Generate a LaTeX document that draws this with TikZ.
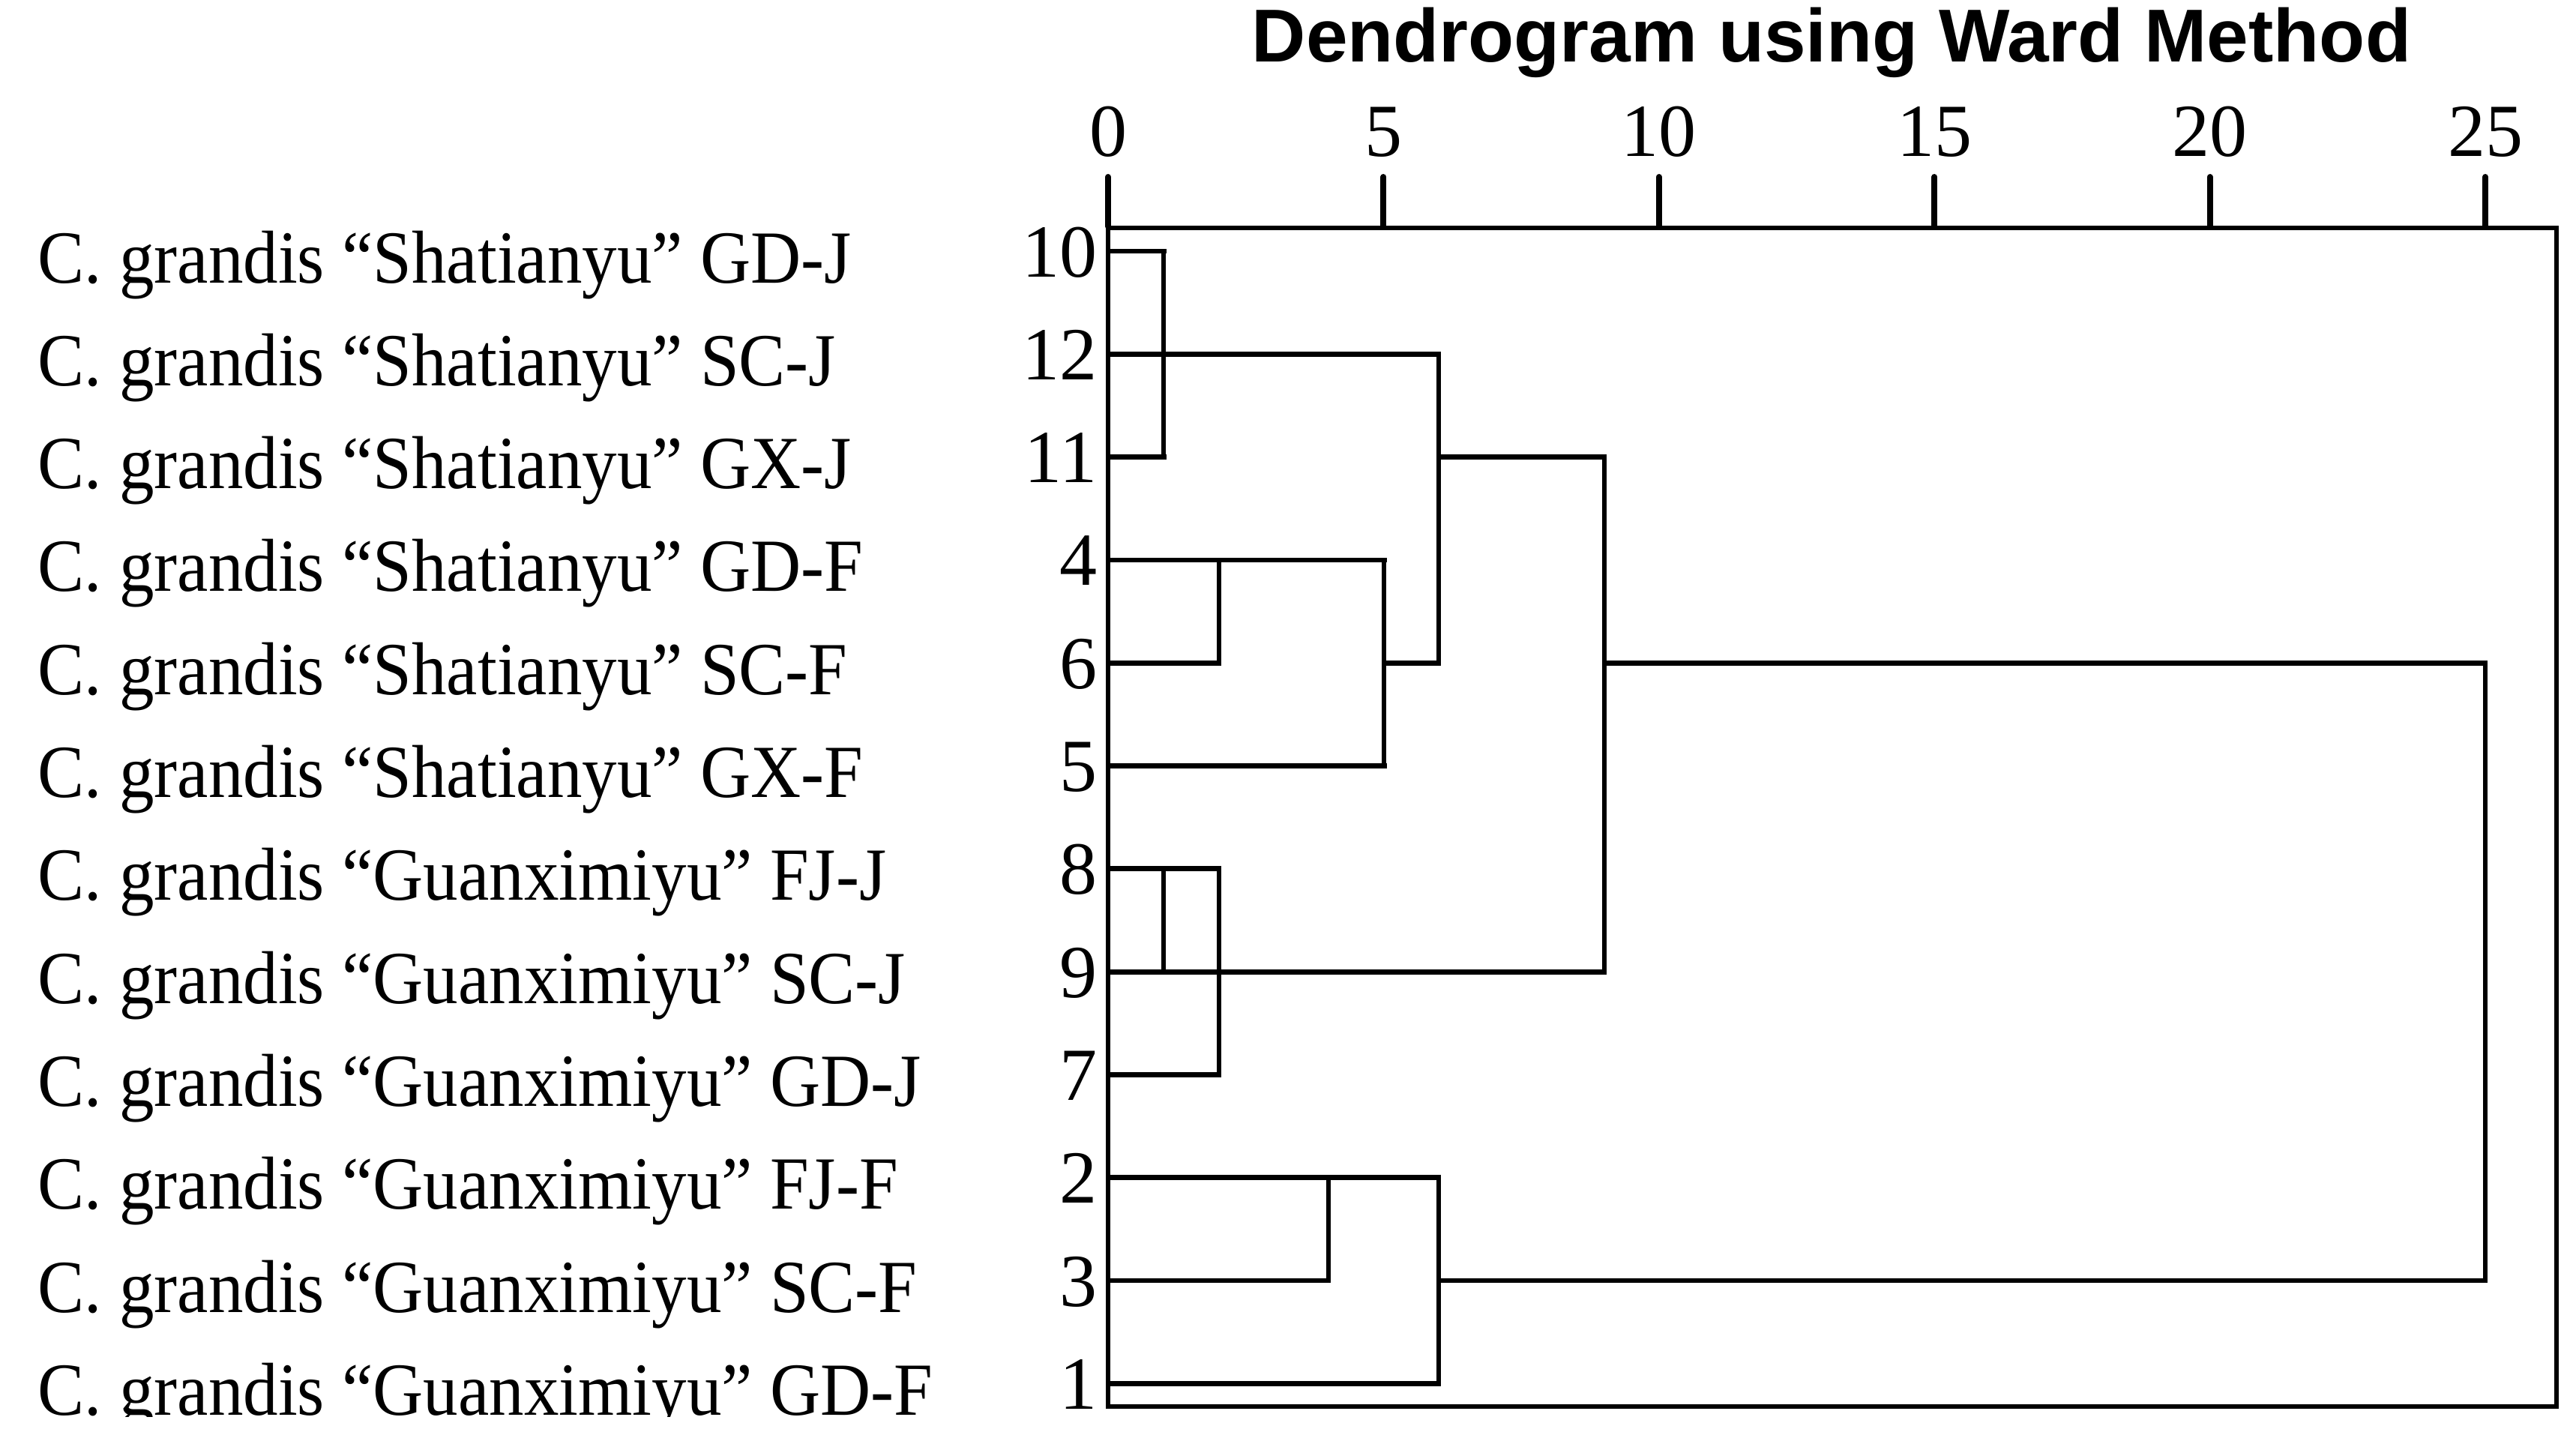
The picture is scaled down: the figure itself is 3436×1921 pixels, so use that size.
\documentclass[tikz,border=0pt]{standalone}
\usepackage{fontspec}
\setmainfont{Liberation Serif}
\newfontfamily\labelfont[FakeStretch=0.93]{Liberation Serif}
\newfontfamily\titlefont{Liberation Sans}
\begin{document}
\begin{tikzpicture}[x=0.25pt,y=-0.25pt,
  hline/.style={line width=1.7pt,line cap=rect},
  vline/.style={line width=1.5pt,line cap=rect},
  tickline/.style={line width=2pt,line cap=round},
  leaflab/.style={anchor=base west,inner sep=0pt,font=\labelfont\fontsize{25}{25}\selectfont},
  leafnum/.style={anchor=base east,inner sep=0pt,font=\fontsize{25}{25}\selectfont},
  scalenum/.style={anchor=base,inner sep=0pt,font=\fontsize{25}{25}\selectfont},
  titlestyle/.style={anchor=base,inner sep=0pt,font=\titlefont\bfseries\fontsize{25}{25}\selectfont}]
\useasboundingbox (0,0) rectangle (3436,1921);
\begin{scope}
\clip (0,0) rectangle (3436,1889);
% title
\node[titlestyle] (title) at (2443,82) {Dendrogram using Ward Method};
% distance coordinates
\coordinate (d0) at (1478,0);
\coordinate (d1) at (1552.4,0);
\coordinate (d2) at (1625.9,0);
\coordinate (d4) at (1771.8,0);
\coordinate (d5) at (1846.2,0);
\coordinate (d6) at (1919,0);
\coordinate (d9) at (2139.9,0);
\coordinate (d25) at (3315,0);
\coordinate (dR) at (3410,0);
% scale
\foreach \d in {0,5,10,15,20,25}{
  \pgfmathsetmacro{\xx}{1478+73.48*\d}
  \coordinate (tk\d) at (\xx,236);
  \node[scalenum] (s\d) at (\xx,208) {\d};
  \draw[tickline] (tk\d) -- (\xx,302);
}
% frame
\coordinate (FTL) at (1478,304);
\coordinate (FTR) at (3410,304);
\coordinate (FBL) at (1478,1876);
\coordinate (FBR) at (3410,1876);
\draw[hline] (FTL) -- (FTR);
\draw[hline] (FBL) -- (FBR);
\draw[vline] (FTL) -- (FBL);
\draw[vline] (FTR) -- (FBR);
% leaves
\foreach \n/\i/\txt in {
  10/0/{C. grandis “Shatianyu” GD-J},
  12/1/{C. grandis “Shatianyu” SC-J},
  11/2/{C. grandis “Shatianyu” GX-J},
  4/3/{C. grandis “Shatianyu” GD-F},
  6/4/{C. grandis “Shatianyu” SC-F},
  5/5/{C. grandis “Shatianyu” GX-F},
  8/6/{C. grandis “Guanximiyu” FJ-J},
  9/7/{C. grandis “Guanximiyu” SC-J},
  7/8/{C. grandis “Guanximiyu” GD-J},
  2/9/{C. grandis “Guanximiyu” FJ-F},
  3/10/{C. grandis “Guanximiyu” SC-F},
  1/11/{C. grandis “Guanximiyu” GD-F}}{
  \pgfmathsetmacro{\yy}{335+137.3*\i}
  \coordinate (L\n) at (1478,\yy);
  \node[leafnum] (n\n) at (1464,\yy+34) {\n};
  \node[leaflab] (t\n) at (50,\yy+42) {\txt};
}
% horizontal links
\draw[hline] (L10) -- (L10 -| d1);
\draw[hline] (L12) -- (L12 -| d6);
\draw[hline] (L11) -- (L11 -| d1);
\draw[hline] (L11 -| d6) -- (L11 -| d9);
\draw[hline] (L4) -- (L4 -| d5);
\draw[hline] (L6) -- (L6 -| d2);
\draw[hline] (L6 -| d5) -- (L6 -| d6);
\draw[hline] (L5) -- (L5 -| d5);
\draw[hline] (L8) -- (L8 -| d2);
\draw[hline] (L9) -- (L9 -| d9);
\draw[hline] (L7) -- (L7 -| d2);
\draw[hline] (L2) -- (L2 -| d6);
\draw[hline] (L3) -- (L3 -| d4);
\draw[hline] (L3 -| d6) -- (L3 -| d25);
\draw[hline] (L1) -- (L1 -| d6);
\draw[hline] (L6 -| d9) -- (L6 -| d25);
% vertical links
\draw[vline] (L10 -| d1) -- (L11 -| d1);
\draw[vline] (L12 -| d6) -- (L6 -| d6);
\draw[vline] (L4 -| d2) -- (L6 -| d2);
\draw[vline] (L4 -| d5) -- (L5 -| d5);
\draw[vline] (L11 -| d9) -- (L9 -| d9);
\draw[vline] (L6 -| d25) -- (L3 -| d25);
\draw[vline] (L8 -| d1) -- (L9 -| d1);
\draw[vline] (L8 -| d2) -- (L7 -| d2);
\draw[vline] (L2 -| d4) -- (L3 -| d4);
\draw[vline] (L2 -| d6) -- (L1 -| d6);
\end{scope}
\end{tikzpicture}
\end{document}
